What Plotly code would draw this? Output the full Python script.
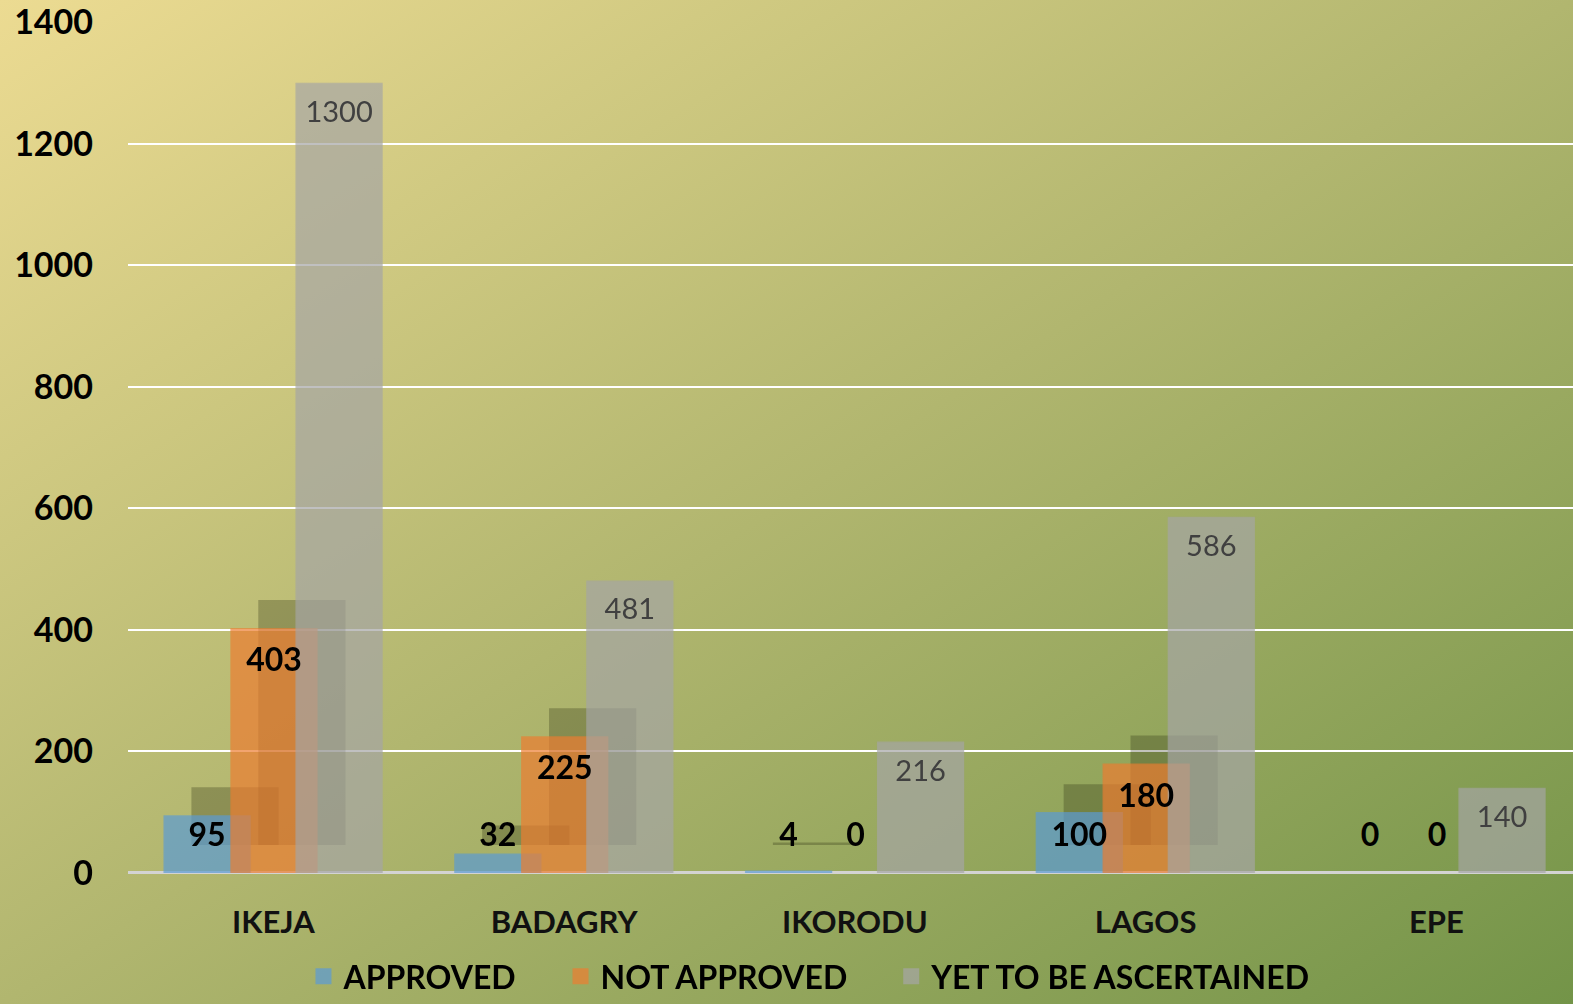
import base64
import numpy as np
import plotly.graph_objects as go

# --- DATA ---
regions = ["IKEJA", "BADAGRY", "IKORODU", "LAGOS", "EPE"]
approved = [95, 32, 4, 100, 0]
not_approved = [403, 225, 0, 180, 0]
yet_to_be = [1300, 481, 216, 586, 140]
y_ticks = [0, 200, 400, 600, 800, 1000, 1200, 1400]

# --- STYLE ---
FONT = "Lato"
BAR_W = 0.3
OPACITY = 0.7
SERIES = [
    ("APPROVED", approved, "#5B9BD5", -0.378, True),
    ("NOT APPROVED", not_approved, "#ED7D31", -0.148, True),
    ("YET TO BE ASCERTAINED", yet_to_be, "#A5A5A5", 0.076, False),
]
SHADOW_DX = 0.096   # category units
SHADOW_DY = 46      # value units
x_idx = np.arange(len(regions))

# gradient background as an svg image
svg = (
    '<svg xmlns="http://www.w3.org/2000/svg" width="1573" height="1004" '
    'viewBox="0 0 1573 1004" preserveAspectRatio="none">'
    '<defs><linearGradient id="g" x1="0" y1="0" x2="1" y2="1">'
    '<stop offset="0" stop-color="#ECDB92"/>'
    '<stop offset="0.5" stop-color="#B1B66F"/>'
    '<stop offset="1" stop-color="#739448"/>'
    '</linearGradient></defs>'
    '<rect width="1573" height="1004" fill="url(#g)"/></svg>'
)
bg_uri = "data:image/svg+xml;base64," + base64.b64encode(svg.encode()).decode()

fig = go.Figure()

# soft shadows behind blue/orange bars
for name, vals, color, off, shadow in SERIES:
    if not shadow:
        continue
    fig.add_trace(go.Bar(
        x=x_idx, y=vals, base=[SHADOW_DY] * len(vals),
        width=BAR_W, offset=off + SHADOW_DX,
        marker=dict(color="rgba(35,40,10,0.28)", line=dict(width=0)),
        showlegend=False, hoverinfo="skip",
    ))

for name, vals, color, off, shadow in SERIES:
    fig.add_trace(go.Bar(
        name=name, x=x_idx, y=vals,
        width=BAR_W, offset=off,
        marker=dict(color=color, line=dict(width=0)),
        opacity=OPACITY, showlegend=False,
    ))

# data labels
for name, vals, color, off, shadow in SERIES:
    v = np.array(vals, dtype=float)
    if shadow:
        ly = np.maximum(v - 58, 57)
        font = dict(family=FONT, size=32, color="#000000", weight="bold")
    else:
        ly = v - 52
        font = dict(family=FONT, size=29, color="#404040")
    fig.add_trace(go.Scatter(
        x=x_idx + off + BAR_W / 2, y=ly, mode="text",
        text=[str(int(a)) for a in vals], textfont=font,
        showlegend=False, hoverinfo="skip", cliponaxis=False,
    ))

# legend entries with larger square swatches
for name, vals, color, off, shadow in SERIES:
    fig.add_trace(go.Scatter(
        x=[None], y=[None], mode="markers", name=name + "\u00a0" * 5,
        marker=dict(symbol="square", size=18, color=color, opacity=OPACITY),
    ))

fig.update_layout(
    width=1573, height=1004,
    margin=dict(l=0, r=0, t=0, b=0, autoexpand=False),
    paper_bgcolor="#B1B66F",
    plot_bgcolor="rgba(0,0,0,0)",
    barmode="overlay",
    font=dict(family=FONT, color="#000000"),
    images=[dict(source=bg_uri, xref="paper", yref="paper", x=0, y=1,
                 sizex=1, sizey=1, sizing="stretch", layer="below",
                 xanchor="left", yanchor="top")],
    legend=dict(orientation="h", x=0.527, xanchor="center", y=0.0, yanchor="bottom",
                font=dict(family=FONT, size=32, color="#000000", weight="bold"),
                bgcolor="rgba(0,0,0,0)", itemwidth=30),
    xaxis=dict(domain=[0.0814, 1.0], range=[-0.5, 4.47], automargin=False,
               tickvals=list(x_idx), ticktext=regions,
               showgrid=False, zeroline=False, showline=False,
               ticklabelstandoff=28,
               tickfont=dict(family=FONT, size=31, color="#111111", weight="bold")),
    yaxis=dict(domain=[0.1305, 0.978], range=[0, 1400], automargin=False,
               tickvals=y_ticks, showgrid=True, gridcolor="#FFFFFF", gridwidth=2,
               zeroline=True, zerolinecolor="#D3D3D3", zerolinewidth=3,
               showline=False, ticklabelstandoff=34, ticklabeloverflow="allow",
               tickfont=dict(family=FONT, size=34, color="#000000", weight="bold")),
)

fig.write_html("out.html", config={"displayModeBar": False},
               post_script="document.body.style.margin='0';")
